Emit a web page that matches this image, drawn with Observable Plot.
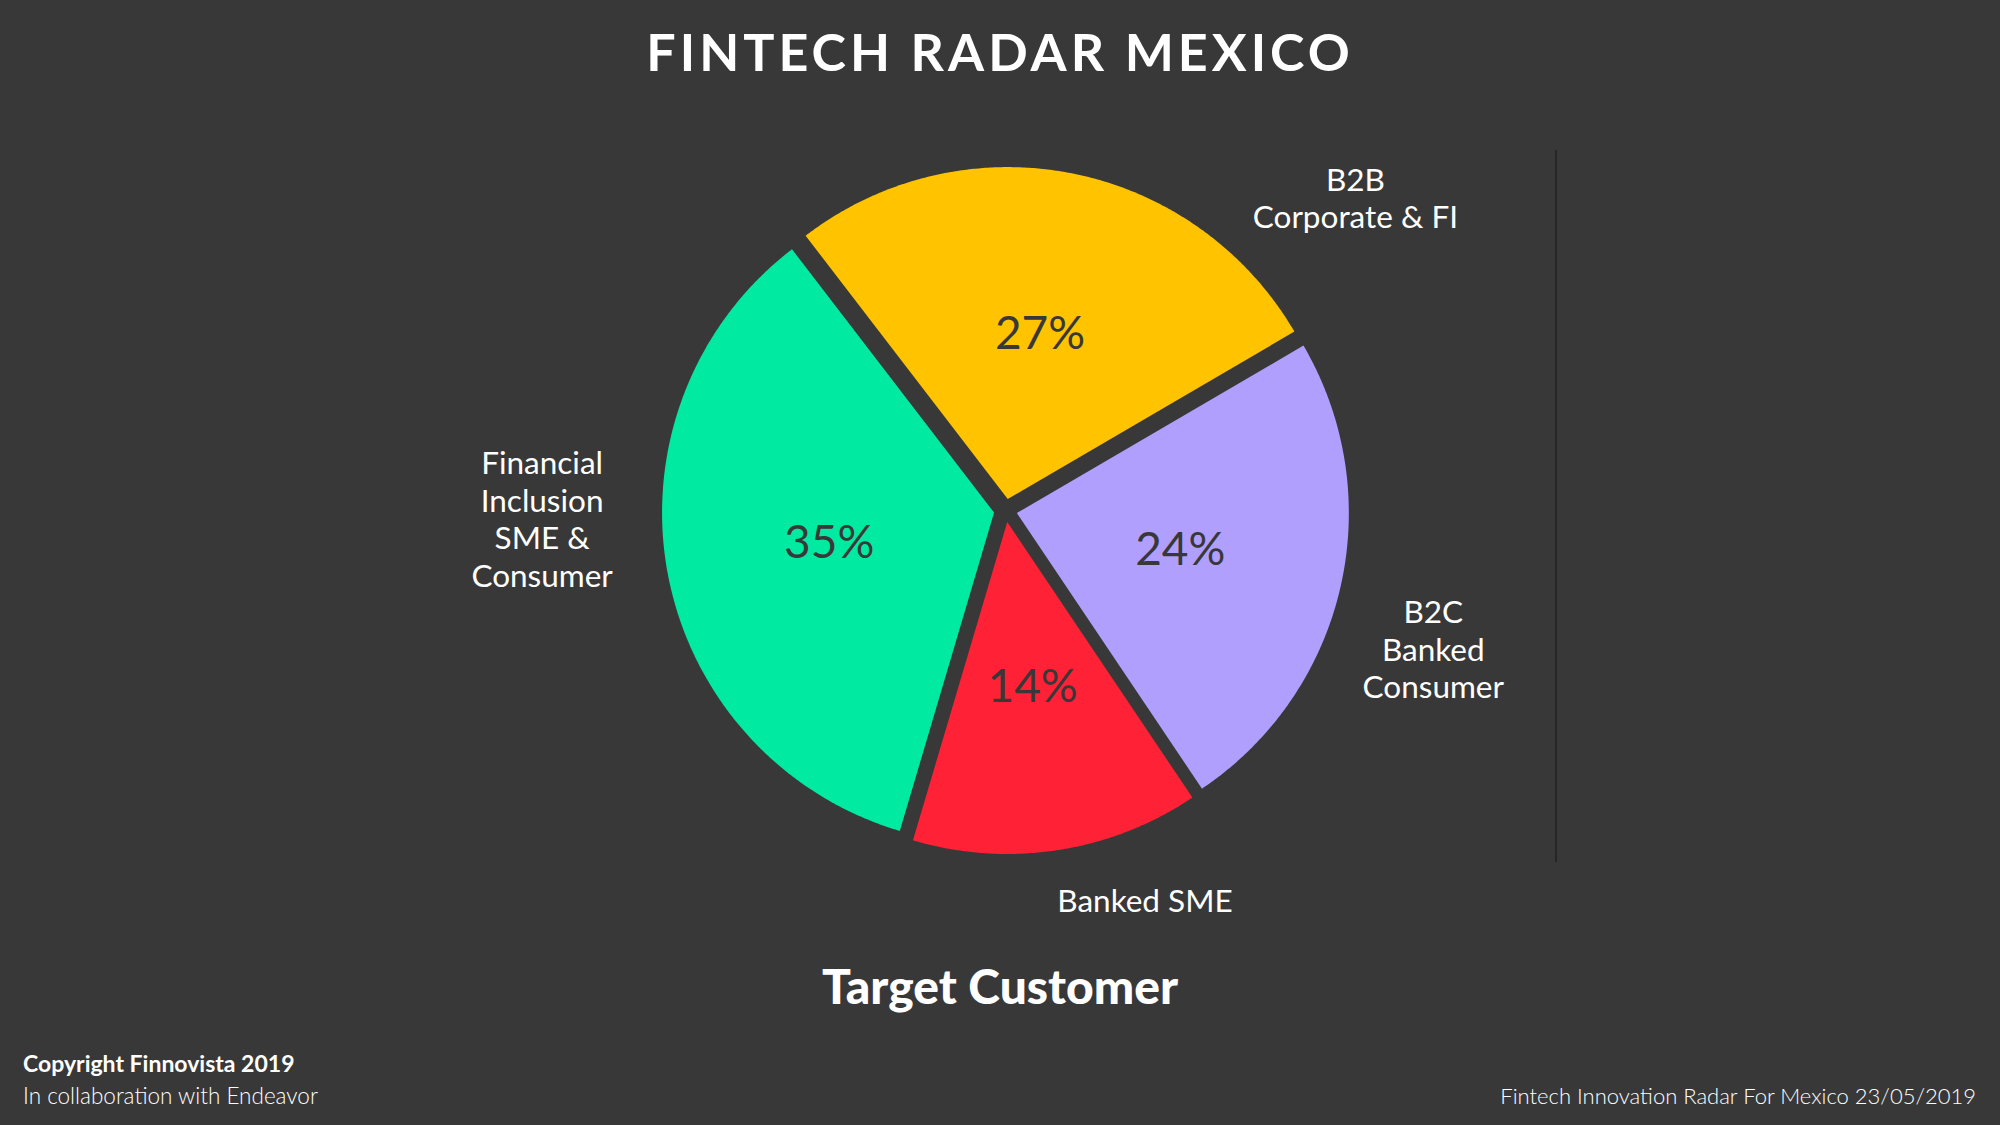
<!DOCTYPE html>
<html>
<head>
<meta charset="utf-8">
<script src="https://cdn.jsdelivr.net/npm/d3@7"></script>
<script src="https://cdn.jsdelivr.net/npm/@observablehq/plot@0.6"></script>
<style>
  html, body { margin: 0; padding: 0; background: #383838; }
  #wrap { position: relative; width: 2000px; height: 1125px; background: #383838; overflow: hidden;
          font-family: Lato, "Open Sans", sans-serif; color: #ffffff; }
  .title { position: absolute; left: 0; width: 2000px; top: 18px; text-align: center;
           font-size: 52px; font-weight: 700; letter-spacing: 4px; line-height: 66px; }
  .subject { position: absolute; left: 0; width: 2000px; top: 956px; text-align: center;
             font-size: 48px; font-weight: 900; line-height: 60px; }
  .copy { position: absolute; left: 23px; top: 1049px; font-size: 23px; font-weight: 700; line-height: 28px; }
  .collab { position: absolute; left: 23px; top: 1082px; font-size: 22.5px; font-weight: 300; line-height: 28px; }
  .source { position: absolute; right: 24px; top: 1082px; font-size: 22px; font-weight: 300; line-height: 28px; }
  .divider { position: absolute; left: 1555px; top: 150px; width: 2px; height: 712px; background: #262626; }
  #chart { position: absolute; left: 0; top: 100px; }
</style>
</head>
<body>
<div id="wrap">
  <div class="title">FINTECH RADAR MEXICO</div>
  <div id="chart"></div>
  <div class="divider"></div>
  <div class="subject">Target Customer</div>
  <div class="copy">Copyright Finnovista 2019</div>
  <div class="collab">In collaboration with Endeavor</div>
  <div class="source">Fintech Innovation Radar For Mexico 23/05/2019</div>
</div>
<script>
// ---- data ----
const categories = ["B2B\nCorporate & FI", "B2C\nBanked\nConsumer", "Banked SME", "Financial\nInclusion\nSME &\nConsumer"];
const shares = [27, 24, 14, 35];
const sliceColors = ["#FFC300", "#B19FFE", "#FF2135", "#00EBA1"];

// ---- layout ----
const W = 2000, H = 860;
const CX = 1005, CY = 410, R = 332;      // pie centre / radius in pixels
const startDeg = -37.5;                  // first slice starts here (clockwise from 12 o'clock)
const explode = 0.035;                   // slice offset, in radius units
const pctRadius = 0.505;                 // percentage label distance from slice apex
// outer label placement (angle in degrees clockwise from top, distance in radius units)
const labelAngle = [48.2, 107.9, 160.3, 269.0];
const labelDist = [1.414, 1.354, 1.246, 1.396];

const rad = Math.PI / 180;
const pie = d3.pie().sort(null).value(d => d)
  .startAngle(startDeg * rad).endAngle(startDeg * rad + 2 * Math.PI);
const arcs = pie(shares);

const slices = arcs.map((a, i) => {
  const mid = (a.startAngle + a.endAngle) / 2;
  return {
    cat: categories[i], value: shares[i],
    a0: a.startAngle, a1: a.endAngle, mid,
    ox: explode * Math.sin(mid), oy: explode * Math.cos(mid)
  };
});

// outline of every slice (apex + sampled arc)
const outline = [];
for (const s of slices) {
  outline.push({cat: s.cat, x: s.ox, y: s.oy});
  const n = Math.ceil((s.a1 - s.a0) / (0.4 * rad));
  for (let k = 0; k <= n; k++) {
    const t = s.a0 + (s.a1 - s.a0) * k / n;
    outline.push({cat: s.cat, x: s.ox + Math.sin(t), y: s.oy + Math.cos(t)});
  }
}

const pctLabels = slices.map(s => ({
  text: s.value + "%",
  x: s.ox + pctRadius * Math.sin(s.mid),
  y: s.oy + pctRadius * Math.cos(s.mid)
}));

const outerLabels = slices.map((s, i) => ({
  text: s.cat,
  x: labelDist[i] * Math.sin(labelAngle[i] * rad),
  y: labelDist[i] * Math.cos(labelAngle[i] * rad)
}));

const chart = Plot.plot({
  width: W, height: H,
  margin: 0,
  style: {background: "transparent", color: "#ffffff", fontFamily: "Lato, 'Open Sans', sans-serif"},
  x: {domain: [-CX / R, (W - CX) / R], axis: null},
  y: {domain: [-(H - CY) / R, CY / R], axis: null},
  color: {type: "ordinal", domain: categories, range: sliceColors},
  marks: [
    Plot.line(outline, {x: "x", y: "y", z: "cat", fill: "cat", stroke: "none", curve: "linear"}),
    Plot.text(pctLabels, {x: "x", y: "y", text: "text", fill: "#383838", fontSize: 46,
      fontFamily: "Lato, 'Open Sans', sans-serif", textAnchor: "middle", lineAnchor: "middle"}),
    Plot.text(outerLabels, {x: "x", y: "y", text: "text", fill: "#ffffff", fontSize: 31.5, lineHeight: 1.19,
      fontFamily: "Lato, 'Open Sans', sans-serif", textAnchor: "middle", lineAnchor: "middle"})
  ]
});
document.getElementById("chart").appendChild(chart);
</script>
</body>
</html>
